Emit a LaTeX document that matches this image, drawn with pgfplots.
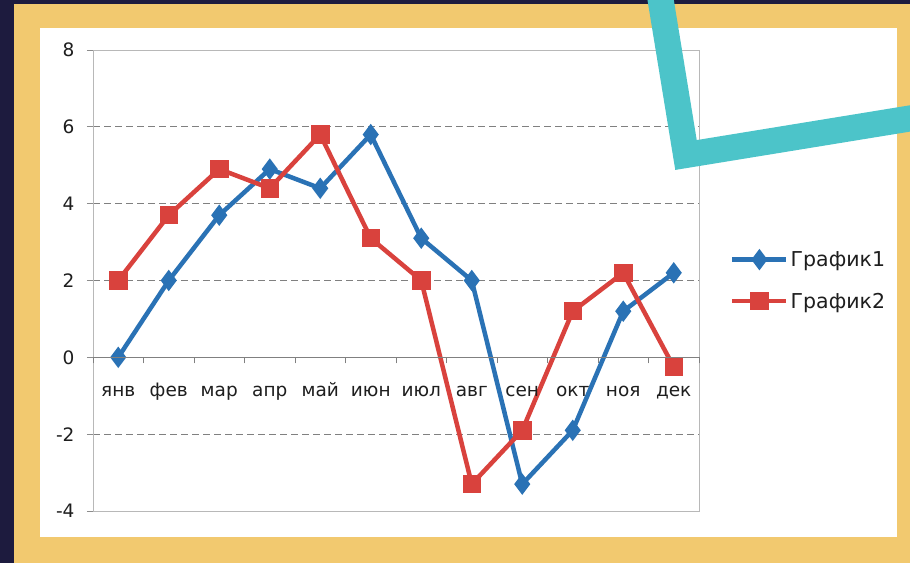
\documentclass[border=0pt]{standalone}
\usepackage{fontspec}
\setmainfont{DejaVu Sans}
\setsansfont{DejaVu Sans}
\usepackage{pgfplots}
\pgfplotsset{compat=1.18}
\definecolor{navy}{HTML}{1D1B3E}
\definecolor{frameyellow}{HTML}{F2C96F}
\definecolor{tealdeco}{HTML}{4CC4C9}
\definecolor{sone}{HTML}{2A72B5}
\definecolor{stwo}{HTML}{D9423D}
\definecolor{txt}{HTML}{1E1E1E}
\newcommand{\lblfont}{\fontsize{18.5}{21}\selectfont}
\newcommand{\legfont}{\fontsize{20.5}{23}\selectfont}
\begin{document}
\begin{tikzpicture}[x=1pt,y=1pt]
\useasboundingbox (0,0) rectangle (910,563);
\clip (0,0) rectangle (910,563);
\fill[navy] (0,0) rectangle (910,563);
\fill[frameyellow] (14,0) rectangle (910,559);
\fill[white] (40,26) rectangle (897,535);
\begin{axis}[
  at={(93pt,52pt)}, anchor=south west, scale only axis,
  width=606pt, height=461pt,
  xmin=0.5, xmax=12.5, ymin=-4, ymax=8,
  xtick=\empty,
  ytick={-4,-2,...,8},
  ytick pos=left, tick align=outside, major tick length=6pt,
  ytick style={draw=black!45, line width=0.8pt},
  axis line style={draw=black!28, line width=0.8pt},
  ymajorgrids, grid style={dash pattern=on 7pt off 4pt, draw=black!50, line width=0.9pt},
  yticklabel style={font=\lblfont, text=txt, xshift=-9pt},
  /pgf/number format/assume math mode=true,
  legend style={at={(1,0.5)}, anchor=west, xshift=28pt, draw=none, fill=none,
    font=\legfont, text=txt, row sep=21pt},
  legend cell align=left,
  legend image code/.code={\draw[mark repeat=2,mark phase=2,#1] plot coordinates {(0pt,0pt)(27pt,0pt)(54pt,0pt)};},
]
\addplot[sone, line width=4.5pt, mark=diamond*, mark size=7pt, mark options={solid}] coordinates {
(1,0) (2,2) (3,3.7) (4,4.9) (5,4.4) (6,5.8) (7,3.1) (8,2.0) (9,-3.3) (10,-1.9) (11,1.2) (12,2.2)};
\addplot[stwo, line width=4.5pt, mark=square*, mark size=7pt, mark options={solid}] coordinates {
(1,2) (2,3.7) (3,4.9) (4,4.4) (5,5.8) (6,3.1) (7,2.0) (8,-3.3) (9,-1.9) (10,1.2) (11,2.2) (12,-0.25)};
\legend{График1,График2}
\end{axis}
\begin{axis}[
  at={(93pt,52pt)}, anchor=south west, scale only axis,
  width=606pt, height=461pt,
  xmin=0.5, xmax=12.5, ymin=-4, ymax=8,
  axis x line=middle, axis y line=none,
  x axis line style={-, draw=black!50, line width=0.8pt},
  xtick={1,...,12},
  xticklabels={янв,фев,мар,апр,май,июн,июл,авг,сен,окт,ноя,дек},
  major tick length=0pt,
  extra x ticks={0.5,1.5,...,12.5}, extra x tick labels={},
  extra x tick style={major tick length=6pt, tick align=outside, xtick style={draw=black!50, line width=0.8pt}},
  xticklabel style={font=\lblfont, text=txt, anchor=base, yshift=-39pt},
]
\end{axis}
\draw[tealdeco, line width=26pt, line join=miter] (659,573) -- (686,408) -- (925,447);
\end{tikzpicture}
\end{document}
